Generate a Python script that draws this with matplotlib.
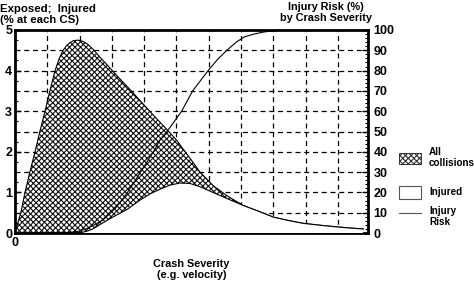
import matplotlib
matplotlib.use("Agg")
import matplotlib.pyplot as plt
from matplotlib.patches import Rectangle
from matplotlib.lines import Line2D
import numpy as np

plt.rcParams['font.family'] = ['Liberation Sans', 'DejaVu Sans']
plt.rcParams['hatch.linewidth'] = 0.8

# All collisions (% exposed at each crash severity)
all_x = [0, 0.18, 0.31, 0.46, 0.62, 0.77, 0.93, 1.08, 1.24, 1.37, 1.49, 1.6, 1.7, 1.82, 1.96,
         2.1, 2.25, 2.41, 2.63, 2.84, 3.15, 3.6, 4.17, 4.7, 5.0, 5.25, 5.42, 5.73, 6.13, 6.56,
         7.06, 7.59, 8.0, 8.45, 8.9, 9.45, 9.97, 10.4, 10.78]
all_y = [0, 0.5, 1.0, 1.5, 2.0, 2.5, 3.0, 3.5, 4.0, 4.3, 4.5, 4.62, 4.69, 4.74, 4.75,
         4.72, 4.65, 4.53, 4.33, 4.15, 3.88, 3.5, 3.0, 2.55, 2.29, 2.02, 1.84, 1.5, 1.17, 0.92,
         0.68, 0.52, 0.39, 0.31, 0.24, 0.19, 0.15, 0.12, 0.1]

# Injured (% at each crash severity)
inj_x = [0, 1.9, 2.1, 2.25, 2.41, 2.7, 3.0, 3.47, 3.87, 4.2, 4.49, 4.8, 5.1, 5.42, 5.73, 6.13,
         6.56, 7.06, 7.59, 8.0, 8.45, 8.9, 9.45, 9.97, 10.4, 10.78]
inj_y = [0, 0, 0.02, 0.05, 0.1, 0.24, 0.38, 0.58, 0.81, 0.97, 1.08, 1.18, 1.23, 1.22, 1.14, 1.0,
         0.85, 0.68, 0.52, 0.39, 0.31, 0.24, 0.19, 0.15, 0.12, 0.1]

# Injury risk (%) by crash severity
risk_x = [1.5, 1.8, 2.0, 2.2, 2.45, 2.72, 2.9, 3.1, 3.3, 3.47, 3.67, 3.87, 4.03, 4.18, 4.34,
          4.49, 4.65, 4.8, 4.98, 5.16, 5.33, 5.5, 5.74, 5.98, 6.27, 6.56, 6.85, 7.1, 7.4, 7.7,
          8.0, 8.5]
risk_y = [0, 0.5, 1, 2, 4, 6.4, 9, 12, 16, 19.7, 24.5, 29.6, 33.5, 37.4, 41.5,
          45.8, 49, 52, 56, 60, 65, 70, 75, 80, 85.5, 90, 94, 96.6, 98, 99,
          99.6, 100]

left_ticks = [0, 1, 2, 3, 4, 5]
right_ticks = [0, 10, 20, 30, 40, 50, 60, 70, 80, 90, 100]
x_ticks = list(range(0, 11))

fig = plt.figure(figsize=(4.74, 2.84), dpi=100)
ax = fig.add_axes([15/474, 1-233/284, (368-15)/474, (233-30)/284])
ax.set_xlim(0, 10.93)
ax.set_ylim(0, 5)

# grid
for xv in x_ticks[1:]:
    ax.axvline(xv, color='black', lw=0.9, ls=(0, (4, 3)), zorder=0)
for yv in np.arange(0.5, 5.0, 0.5):
    ax.axhline(yv, color='black', lw=0.9, ls=(0, (4, 3)), zorder=0)

ax.fill_between(all_x, all_y, 0, facecolor='white', edgecolor='#111111', hatch='xxxxxx',
                lw=0.0, zorder=2)
ax.plot(all_x, all_y, color='black', lw=0.8, zorder=3)
ax.fill_between(inj_x, inj_y, 0, facecolor='white', edgecolor='none', zorder=3)
ax.plot(inj_x, inj_y, color='black', lw=0.8, zorder=4)

ax2 = ax.twinx()
ax2.set_ylim(0, 100)
ax2.plot(risk_x, risk_y, color='black', lw=0.8, zorder=5)

for s in ax.spines.values():
    s.set_linewidth(2)
ax2.spines[:].set_visible(False)

ax.set_xticks(x_ticks)
ax.set_xticklabels(['0'] + [''] * 10)
ax.set_yticks(left_ticks)
ax.set_yticks(np.arange(0, 5.01, 0.25), minor=True)
ax.tick_params(axis='both', which='major', direction='in', length=4, width=1,
               labelsize=9, pad=3)
ax.tick_params(axis='y', which='minor', direction='in', length=2.5, width=0.8)
ax.tick_params(axis='y', pad=2)
for lab in ax.get_xticklabels() + ax.get_yticklabels():
    lab.set_fontweight('bold')

ax2.set_yticks(right_ticks)
ax2.set_yticks(np.arange(0, 101, 2), minor=True)
ax2.tick_params(axis='y', which='major', direction='in', length=4, width=1, labelsize=9, pad=4)
ax2.tick_params(axis='y', which='minor', direction='in', length=2.5, width=0.8)
for lab in ax2.get_yticklabels():
    lab.set_fontweight('bold')

ax.set_xlabel('Crash Severity\n(e.g. velocity)', fontsize=7.8, fontweight='bold', labelpad=7,
              linespacing=1.1)

fig.text(0.0, 1-4/284, 'Exposed;  Injured\n(% at each CS)', fontsize=8.2, fontweight='bold',
         ha='left', va='top', linespacing=1.1)
fig.text(326/474, 1-2/284, 'Injury Risk (%)\nby Crash Severity', fontsize=7.8, fontweight='bold',
         ha='center', va='top', linespacing=1.1)

# legend
def fx(px):
    return px / 474
def fy(py):
    return 1 - py / 284

fig.patches.append(Rectangle((fx(399), fy(164)), fx(421) - fx(399), fy(153) - fy(164),
                             transform=fig.transFigure, facecolor='white', edgecolor='#333333',
                             hatch='xxxxxx', lw=0.7))
fig.patches.append(Rectangle((fx(399), fy(199)), fx(421) - fx(399), fy(186) - fy(199),
                             transform=fig.transFigure, facecolor='white', edgecolor='#555555',
                             lw=0.8))
fig.lines.append(Line2D([fx(399), fx(421)], [fy(213), fy(213)], transform=fig.transFigure,
                        color='#555555', lw=0.8))
fig.text(fx(429), fy(147), 'All\ncollisions', fontsize=7.1, fontweight='bold', va='top',
         linespacing=1.1)
fig.text(fx(429), fy(192), 'Injured', fontsize=7.1, fontweight='bold', va='center')
fig.text(fx(429), fy(206), 'Injury\nRisk', fontsize=7.1, fontweight='bold', va='top',
         linespacing=1.1)

fig.savefig('out.png', dpi=100)
